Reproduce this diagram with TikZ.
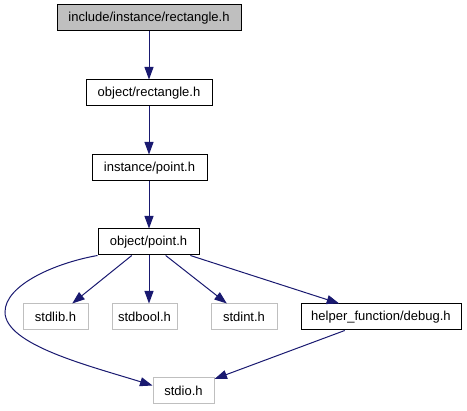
\documentclass[tikz,border=0pt]{standalone}
\usepackage{fontspec}
\setmainfont{Liberation Sans}
\usetikzlibrary{arrows.meta}
\definecolor{edgeblue}{HTML}{191970}
\definecolor{boxgray}{HTML}{BFBFBF}
\begin{document}
\begin{tikzpicture}[x=1pt,y=-1pt,
  filebox/.style={draw=black,line width=1pt,fill=white,minimum height=26pt,inner sep=0pt,font=\fontsize{13}{15}\selectfont},
  mainbox/.style={filebox,fill=boxgray},
  sysbox/.style={filebox,draw=boxgray},
  dep/.style={draw=edgeblue,line width=1pt,-{Triangle[length=12.5pt,width=9pt]}}]
\useasboundingbox (0,0) rectangle (467,411);
\node[mainbox,minimum width=184pt] (top) at (149,18) {include/instance/rectangle.h};
\node[filebox,minimum width=126pt] (orect) at (149,93) {object/rectangle.h};
\node[filebox,minimum width=115pt] (ipoint) at (149.5,168) {instance/point.h};
\node[filebox,minimum width=101pt] (opoint) at (148.5,242) {object/point.h};
\node[sysbox,minimum width=65pt] (stdlib) at (55.5,317) {stdlib.h};
\node[sysbox,minimum width=65pt] (stdbool) at (144.5,317) {stdbool.h};
\node[sysbox,minimum width=66pt] (stdint) at (244,317) {stdint.h};
\node[filebox,minimum width=160pt] (debug) at (381,317) {helper\_function/debug.h};
\node[sysbox,minimum width=61pt] (stdio) at (183.5,390.5) {stdio.h};
\draw[dep] (top.south) -- (orect.north);
\draw[dep] (orect.south) -- (ipoint.north -| orect.south);
\draw[dep] (ipoint.south -| orect.south) -- (opoint.north -| orect.south);
\draw[dep] (opoint) -- (stdlib);
\draw[dep] (opoint.south -| orect.south) -- (stdbool.north -| orect.south);
\draw[dep] (opoint) -- (stdint);
\draw[dep] (opoint) -- (debug);
\draw[dep] (debug) -- (stdio);
\draw[dep] (opoint.south west) .. controls (55,263) and (5,285) .. (5,312)
  .. controls (5,345) and (90,366) .. ([yshift=5pt]stdio.west);
\end{tikzpicture}
\end{document}
